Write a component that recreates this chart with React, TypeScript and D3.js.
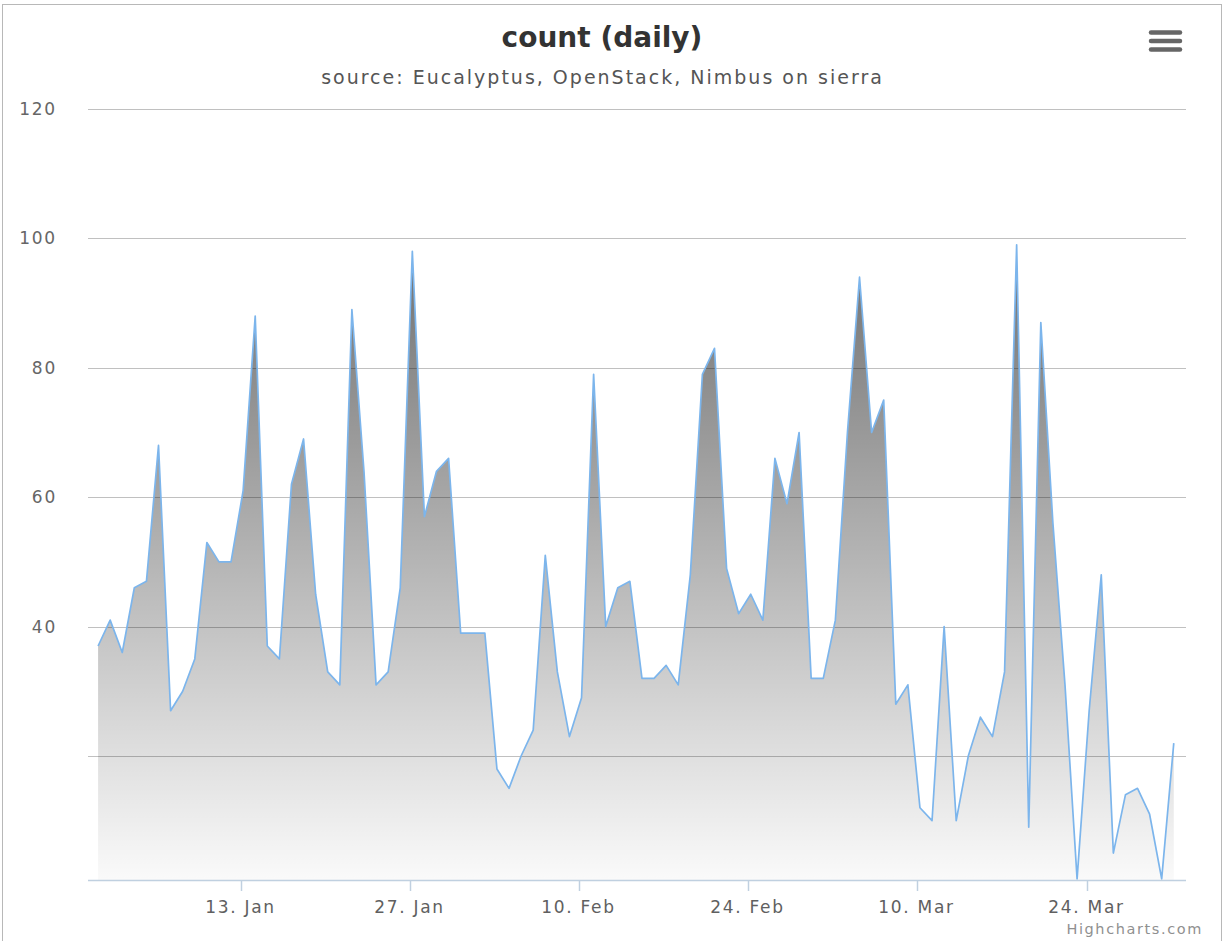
import React from "react";
import * as d3 from "d3";

const startDate = "2014-01-01";
const values: number[] = [
  // January
  37, 41, 36, 46, 47, 68, 27, 30, 35, 53, 50, 50, 61, 88, 37, 35, 62, 69, 45, 33, 31, 89, 64, 31, 33, 46, 98, 57, 64, 66, 39,
  // February
  39, 39, 18, 15, 20, 24, 51, 33, 23, 29, 79, 40, 46, 47, 32, 32, 34, 31, 48, 79, 83, 49, 42, 45, 41, 66, 59, 70,
  // March
  32, 32, 41, 70, 94, 70, 75, 28, 31, 12, 10, 40, 10, 20, 26, 23, 33, 99, 9, 87, 56, 31, 1, 27, 48, 5, 14, 15, 11, 1, 22,
];
const xTickDates = ["2014-01-13", "2014-01-27", "2014-02-10", "2014-02-24", "2014-03-10", "2014-03-24"];
const yTicks = [20, 40, 60, 80, 100, 120];
const yTickLabels = ["", "40", "60", "80", "100", "120"];
const titleText = "count (daily)";
const subtitleText = "source: Eucalyptus, OpenStack, Nimbus on sierra";

const W = 1225;
const H = 941;
const plotL = 88;
const plotR = 1186;
const plotT = 109;
const plotB = 880;
const DAY = 86400000;
const FONT = "'DejaVu Sans', Verdana, sans-serif";

export default function App() {
  const t0 = new Date(startDate + "T00:00:00Z").getTime();
  const pts = values.map((v, i) => ({ t: new Date(t0 + i * DAY + 5 * 3600000), v }));

  const x = d3
    .scaleUtc()
    .domain([new Date(t0 - 0.626 * DAY), new Date(t0 + 90.22 * DAY)])
    .range([plotL, plotR]);
  const y = d3.scaleLinear().domain([0, 120]).range([885.4, plotT]);

  const area = d3
    .area<{ t: Date; v: number }>()
    .x((d) => x(d.t))
    .y0(plotB)
    .y1((d) => y(d.v));
  const line = d3
    .line<{ t: Date; v: number }>()
    .x((d) => x(d.t))
    .y((d) => y(d.v));

  const fmt = d3.utcFormat("%-d. %b");
  const maxV = d3.max(values) as number;

  return (
    <div style={{ position: "absolute", left: 0, top: 0 }}>
      <svg width={W} height={H} style={{ display: "block", fontFamily: FONT }}>
        <defs>
          <clipPath id="plotClip">
            <rect x={plotL} y={plotT - 5} width={plotR - plotL} height={plotB - plotT + 5} />
          </clipPath>
          <linearGradient id="areaGrad" gradientUnits="userSpaceOnUse" x1={0} y1={y(maxV)} x2={0} y2={plotB}>
            <stop offset="0" stopColor="#000" stopOpacity={0.56} />
            <stop offset="1" stopColor="#000" stopOpacity={0.02} />
          </linearGradient>
        </defs>
        <rect x={0} y={0} width={W} height={H} fill="#fff" />
        <rect x={2.5} y={4.5} width={1219} height={H + 10} fill="none" stroke="#b8b8b8" strokeWidth={1} />

        {/* title */}
        <text x={602} y={47} textAnchor="middle" fontSize={28} fontWeight="bold" fill="#333333">
          {titleText}
        </text>
        <text x={602.5} y={84} textAnchor="middle" fontSize={19} letterSpacing={2} fill="#555555">
          {subtitleText}
        </text>

        {/* menu icon */}
        {[32.5, 41, 49.5].map((yy, i) => (
          <line key={i} x1={1151} x2={1180} y1={yy} y2={yy} stroke="#666" strokeWidth={4.5} strokeLinecap="round" />
        ))}

        {/* gridlines */}
        {yTicks.map((v) => (
          <line key={v} x1={plotL} x2={plotR} y1={Math.round(y(v)) + 0.5} y2={Math.round(y(v)) + 0.5} stroke="#c0c0c0" strokeWidth={1} />
        ))}
        {yTicks.map((v, i) => (
          <text key={"l" + v} x={57} y={y(v) + 6} textAnchor="end" fontSize={17} letterSpacing={1.8} fill="#666666">
            {yTickLabels[i]}
          </text>
        ))}

        {/* series */}
        <g clipPath="url(#plotClip)">
          <path d={area(pts) || ""} fill="url(#areaGrad)" />
          <path d={line(pts) || ""} fill="none" stroke="#7cb5ec" strokeWidth={1.7} strokeLinejoin="round" />
        </g>

        {/* x axis */}
        <line x1={plotL} x2={plotR} y1={plotB + 0.5} y2={plotB + 0.5} stroke="#C0D0E0" strokeWidth={1.5} />
        {xTickDates.map((s) => {
          const d = new Date(s + "T00:00:00Z");
          const xx = Math.round(x(d)) + 0.5;
          return (
            <g key={s}>
              <line x1={xx} x2={xx} y1={plotB} y2={plotB + 11} stroke="#C0D0E0" strokeWidth={1.5} />
              <text x={xx - 1} y={913} textAnchor="middle" fontSize={17} letterSpacing={1.7} fill="#606060">
                {fmt(d)}
              </text>
            </g>
          );
        })}

        {/* credits */}
        <text x={1203} y={934} textAnchor="end" fontSize={14.5} letterSpacing={1.6} fill="#909090">
          Highcharts.com
        </text>
      </svg>
    </div>
  );
}
